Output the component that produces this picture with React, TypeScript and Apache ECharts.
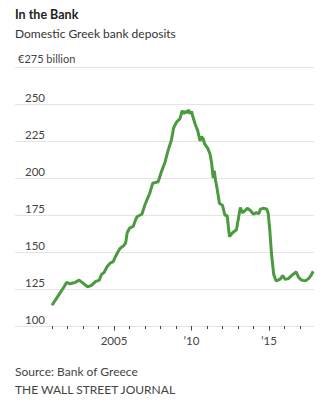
import React, { useEffect, useRef } from "react";
import * as echarts from "echarts";

// Domestic Greek bank deposits, € billion (decimal year, value)
const years: number[] = [
  2001.0, 2001.25, 2001.5, 2001.75, 2001.95, 2002.15, 2002.35, 2002.5, 2002.75, 2003.0,
  2003.3, 2003.55, 2003.8, 2004.05, 2004.2, 2004.35, 2004.55, 2004.75, 2004.95, 2005.1,
  2005.25, 2005.4, 2005.6, 2005.75, 2005.85, 2006.0, 2006.25, 2006.4, 2006.5, 2006.8,
  2007.0, 2007.3, 2007.5, 2007.85, 2008.05, 2008.3, 2008.5, 2008.7, 2008.85, 2009.05,
  2009.25, 2009.4, 2009.5, 2009.6, 2009.7, 2009.8, 2009.9, 2010.0, 2010.1, 2010.25,
  2010.4, 2010.55, 2010.65, 2010.75, 2010.85, 2011.05, 2011.2, 2011.3, 2011.4, 2011.47,
  2011.55, 2011.65, 2011.8, 2012.0, 2012.15, 2012.3, 2012.45, 2012.65, 2012.9, 2013.05,
  2013.15, 2013.3, 2013.45, 2013.6, 2013.8, 2014.0, 2014.15, 2014.35, 2014.45, 2014.6,
  2014.85, 2014.95, 2015.05, 2015.15, 2015.3, 2015.45, 2015.6, 2015.75, 2015.88, 2016.05,
  2016.25, 2016.5, 2016.75, 2016.9, 2017.1, 2017.35, 2017.55, 2017.7, 2017.85,
];
const deposits: number[] = [
  114, 118, 122, 126, 129.5, 128.5, 129, 129.5, 131, 129,
  126.5, 127.5, 130, 131, 135, 136, 140, 142.5, 143.5, 147,
  150, 152.5, 154, 156, 163, 166, 167.5, 172, 174, 175.5,
  182, 189.5, 196.5, 197.5, 204, 211, 219, 225.5, 234, 238,
  240, 245.5, 243.5, 245, 244, 246, 243.5, 245, 241, 236,
  232, 225, 228, 226.5, 223, 220, 216, 210, 200, 205,
  198.5, 193, 183, 181.5, 175, 174.5, 160.5, 163, 165, 174,
  180, 176.5, 178, 179.5, 178, 175.5, 176.5, 176, 179, 179.5,
  179, 176, 165, 150, 135, 130.5, 131, 132, 134, 131.5,
  132, 134.5, 136.5, 133, 131, 130.5, 132, 134, 137,
];

const minorTickYears: number[] = [
  2001, 2002, 2003, 2004, 2005, 2006, 2007, 2008, 2009, 2010, 2011, 2012, 2013, 2014, 2015, 2016, 2017,
];
const majorTickYears: number[] = [2005, 2010, 2015];

const FONT = "Lato, 'Noto Sans', sans-serif";

export default function App() {
  const ref = useRef<HTMLDivElement>(null);
  useEffect(() => {
    if (!ref.current) return;
    const chart = echarts.init(ref.current, null, { renderer: "svg" });
    const xMin = 1998.613;
    const xMax = 2017.903;
    chart.setOption({
      animation: false,
      grid: { left: 15, right: 17, top: 67, bottom: 92, containLabel: false },
      xAxis: [
        {
          type: "value",
          min: xMin,
          max: xMax,
          axisLine: { show: false },
          splitLine: { show: false },
          axisTick: {
            show: true,
            length: 3,
            customValues: minorTickYears,
            lineStyle: { color: "#444", width: 1 },
          },
          axisLabel: { show: false },
        },
        {
          type: "value",
          position: "bottom",
          min: xMin,
          max: xMax,
          axisLine: { show: false },
          splitLine: { show: false },
          axisTick: {
            show: true,
            length: 4.5,
            customValues: majorTickYears,
            lineStyle: { color: "#444", width: 1 },
          },
          axisLabel: {
            show: true,
            customValues: majorTickYears,
            margin: 8,
            fontFamily: FONT,
            fontSize: 11.5,
            color: "#444",
            formatter: (v: number) =>
              Math.round(v) === 2005 ? "2005" : "\u2019" + String(Math.round(v)).slice(2),
          },
        },
      ],
      yAxis: {
        type: "value",
        min: 100,
        max: 275,
        interval: 25,
        axisLine: { show: false },
        axisTick: { show: false },
        splitLine: { show: true, lineStyle: { color: "#e4e4e4", width: 1 } },
        axisLabel: {
          inside: true,
          margin: 10,
          fontFamily: FONT,
          fontSize: 11.5,
          color: "#444",
          verticalAlign: "bottom",
          lineHeight: 13,
          formatter: (v: number) => (v === 275 ? "" : String(v)),
        },
      },
      series: [
        {
          type: "line",
          xAxisIndex: 0,
          data: years.map((y, i) => [y, deposits[i]]),
          showSymbol: false,
          lineStyle: { color: "#4c9a40", width: 3 },
          itemStyle: { color: "#4c9a40" },
        },
      ],
      graphic: [
        {
          type: "text",
          left: 15,
          top: 8,
          style: {
            text: "In the Bank",
            font: `bold 12.5px ${FONT}`,
            fill: "#222",
          },
        },
        {
          type: "text",
          left: 15,
          top: 27,
          style: {
            text: "Domestic Greek bank deposits",
            font: `12px ${FONT}`,
            fill: "#333",
          },
        },
        {
          type: "text",
          left: 18,
          top: 53,
          style: {
            text: "\u20ac275 billion",
            font: `11px ${FONT}`,
            fill: "#444",
          },
        },
        {
          type: "text",
          left: 15,
          top: 365,
          style: {
            text: "Source: Bank of Greece",
            font: `12px ${FONT}`,
            fill: "#444",
          },
        },
        {
          type: "text",
          left: 15,
          top: 383,
          style: {
            text: "THE WALL STREET JOURNAL",
            font: `12px ${FONT}`,
            fill: "#444",
          },
        },
      ],
    });
    return () => chart.dispose();
  }, []);
  return (
    <div
      ref={ref}
      style={{ position: "fixed", left: 0, top: 0, width: 331, height: 418, background: "#fff" }}
    />
  );
}
